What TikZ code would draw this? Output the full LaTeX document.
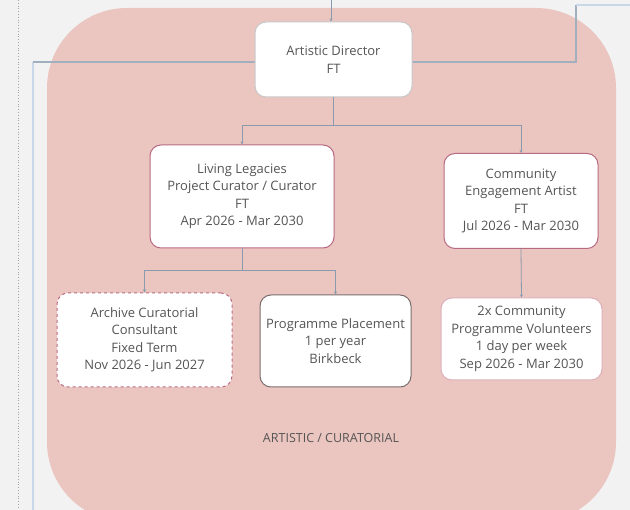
\documentclass[tikz,border=0pt]{standalone}
\usepackage{fontspec}
\setmainfont{Open Sans}
\usetikzlibrary{arrows.meta,calc}
\definecolor{bgc}{HTML}{F2F2F2}
\definecolor{pinkreg}{HTML}{EBC5C0}
\definecolor{linec}{HTML}{8A9BAE}
\definecolor{lightline}{HTML}{C9D8E8}
\definecolor{txt}{HTML}{555555}
\definecolor{pinkbd}{HTML}{B86A82}
\definecolor{lightpinkbd}{HTML}{DDB0BC}
\definecolor{graybd}{HTML}{7A6E6E}
\definecolor{adbd}{HTML}{C8C8C8}
\tikzset{
  box/.style={draw, fill=white, rounded corners=11pt, line width=1pt, align=center,
    text=txt, font=\fontsize{13}{17.5}\selectfont, inner sep=2pt},
  conn/.style={draw=linec, line width=0.8pt, -{Stealth[length=3pt,width=3pt]}},
  outer/.style={draw=lightline, line width=1.2pt}
}
\begin{document}
\begin{tikzpicture}[x=1pt,y=-1pt]
\useasboundingbox (0,0) rectangle (630,510);
\fill[bgc] (0,0) rectangle (630,510);
\begin{scope}
\clip (0,0) rectangle (630,510);
\fill[pinkreg] [rounded corners=80pt] (47,8) -- (616,8) -- (616,522) -- (47,522) -- cycle;
\end{scope}
% dotted left line
\draw[gray!70, line width=0.8pt, dotted] (18,0) -- (18,510);
% outer connector
\coordinate (o1) at (33,510);
\coordinate (o2) at (33,62);
\coordinate (o3) at (576,62);
\coordinate (o4) at (576,5);
\coordinate (o5) at (630,5);
\draw[outer] (o1) -- (o2);
\draw[draw=linec!80, line width=1.2pt] (o2) -- (o3) -- (o4);
\draw[outer] (o4) -- (o5);
% nodes
\node[box, draw=adbd, minimum width=157pt, minimum height=75pt] (AD) at (333.5,59.5) {Artistic Director\\FT};
\node[box, draw=pinkbd, minimum width=184pt, minimum height=103pt] (LL) at (242,196.5) {Living Legacies\\Project Curator / Curator\\FT\\Apr 2026 - Mar 2030};
\node[box, draw=pinkbd, minimum width=154pt, minimum height=95pt] (CE) at (521,201) {Community\\Engagement Artist\\FT\\Jul 2026 - Mar 2030};
\node[box, draw=pinkbd, dashed, minimum width=175pt, minimum height=94pt] (AC) at (144.5,340) {Archive Curatorial\\Consultant\\Fixed Term\\Nov 2026 - Jun 2027};
\node[box, draw=graybd, minimum width=151pt, minimum height=92pt] (PP) at (335.5,341) {Programme Placement\\1 per year\\Birkbeck};
\node[box, draw=lightpinkbd, minimum width=161pt, minimum height=82pt] (CV) at (521.5,339) {2x Community\\Programme Volunteers\\1 day per week\\Sep 2026 - Mar 2030};
\coordinate (top) at (331,0);
\node[text=txt, font=\fontsize{12.5}{15}\selectfont] (lab) at (331,438) {ARTISTIC / CURATORIAL};
% connectors
\draw[conn] (top) -- (top |- AD.north);
\coordinate (j1) at (333.5,125);
\draw[conn] (AD.south) -- (j1) -| (LL.north);
\draw[conn] (j1) -| (CE.north);
\coordinate (j2) at (242,270);
\draw[conn] (LL.south) -- (j2) -| (AC.north);
\draw[conn] (j2) -| (PP.north);
\draw[conn] (CE.south) -- (CV.north);
\end{tikzpicture}
\end{document}
